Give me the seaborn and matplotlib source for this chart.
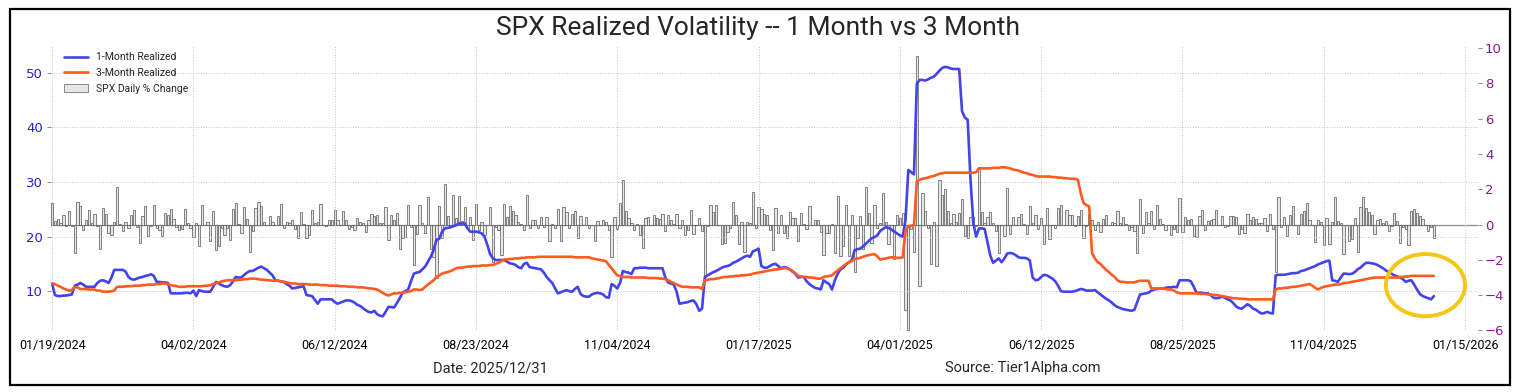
import numpy as np
import pandas as pd
import matplotlib
matplotlib.use("Agg")
import matplotlib.pyplot as plt
from matplotlib.patches import Ellipse, Rectangle, Patch
from matplotlib.lines import Line2D
import seaborn as sns

# x axis is trading-day index, labelled every 50 sessions
tick_labels = ["01/19/2024", "04/02/2024", "06/12/2024", "08/23/2024", "11/04/2024",
               "01/17/2025", "04/01/2025", "06/12/2025", "08/25/2025", "11/04/2025",
               "01/15/2026"]

# SPX daily % change (right axis)
spx_chg = [
    1.23, 0.22, 0.29, 0.08, 0.53, -0.07, 0.76, -0.06, -1.61, 1.25,
    1.07, -0.32, 0.23, 0.82, 0.06, 0.57, -0.09, -1.37, 0.96, 0.58,
    -0.48, -0.60, 0.13, 2.11, 0.03, -0.38, 0.17, -0.17, 0.52, 0.80,
    -0.12, -1.02, 0.51, 1.03, -0.65, -0.11, 1.12, -0.19, -0.29, -0.65,
    0.63, 0.56, 0.89, 0.32, -0.14, -0.31, -0.28, 0.86, 0.11, -0.20,
    -0.72, 0.11, -1.23, 1.11, -0.04, 0.14, -0.95, 0.74, -1.46, -1.20,
    -0.21, -0.58, -0.22, -0.88, 0.87, 1.20, 0.02, -0.46, 1.02, 0.32,
    -1.57, -0.34, 0.91, 1.26, 1.03, 0.13, 0.00, 0.51, 0.16, -0.02,
    0.48, 1.17, -0.21, 0.12, 0.09, 0.25, -0.27, -0.74, 0.70, 0.02,
    -0.74, -0.60, 0.80, 0.11, 0.15, 1.18, -0.02, -0.11, 0.26, 0.27,
    0.85, 0.23, -0.04, 0.77, 0.25, -0.25, -0.16, -0.31, 0.39, 0.16,
    0.09, -0.41, 0.27, 0.62, 0.51, 0.54, 0.10, 0.07, 1.02, -0.88,
    0.55, 0.28, 0.64, -1.39, -0.78, -0.71, 1.08, -0.16, -2.31, -0.51,
    1.11, 0.08, -0.50, 1.58, -1.37, -1.84, -3.00, 1.04, -0.77, 2.30,
    0.47, 0.00, 1.68, 0.38, 1.61, 0.20, 0.97, -0.20, 0.42, -0.89,
    1.15, -0.32, 0.16, -0.60, 0.00, 1.01, -2.12, -0.16, -0.30, -1.73,
    1.16, 0.45, 1.07, 0.75, 0.54, 0.13, 0.03, -0.29, 1.70, -0.19,
    0.28, 0.25, -0.19, 0.40, -0.13, 0.42, -0.93, 0.01, -0.17, 0.90,
    -0.96, 0.97, 0.71, -0.21, 0.61, 0.77, -0.76, 0.47, -0.02, 0.40,
    -0.18, -0.05, -0.92, 0.21, -0.03, 0.27, 0.16, -0.33, -1.86, 0.41,
    -0.28, 1.23, 2.53, 0.74, 0.38, 0.10, -0.29, 0.02, -0.60, -1.32,
    0.39, 0.40, 0.00, 0.53, 0.35, 0.30, 0.57, -0.38, 0.56, 0.24,
    0.05, 0.61, -0.19, 0.25, -0.61, -0.30, 0.82, -0.54, 0.00, 0.38,
    -0.39, -2.95, -0.09, 1.09, 0.73, 1.10, -0.04, -1.11, -1.07, -0.43,
    -0.22, 1.26, 0.55, -1.11, 0.16, -1.54, 0.16, 0.11, 1.83, -0.21,
    1.00, 0.88, 0.61, 0.53, -0.29, -1.46, 0.92, -0.47, 0.53, -0.50,
    -0.76, 0.72, 0.39, 0.36, -0.95, 0.67, 0.03, -0.27, 1.04, -0.01,
    0.24, 0.24, -0.43, -1.71, -0.50, -0.47, 0.01, -1.59, 1.59, -1.76,
    -1.22, 1.12, -1.78, 0.55, -2.70, -0.76, 0.49, -1.39, 2.13, 0.64,
    -1.07, 1.08, -0.22, 0.08, 1.76, 0.16, -1.12, -0.33, -1.97, 0.55,
    0.38, 0.67, -4.84, -5.97, -0.23, -1.57, 9.52, -3.46, 1.81, 0.79,
    -0.17, -2.24, 0.13, -2.36, 2.51, 1.67, 2.03, 0.74, 0.06, 0.58,
    0.15, 0.63, 1.47, -0.64, -0.77, 0.43, 0.43, -0.07, 3.26, 0.72,
    0.10, 0.41, 0.70, 0.09, -0.39, -1.61, -0.04, -0.67, 2.05, -0.56,
    0.40, -0.01, 0.41, 0.58, 0.01, -0.53, 1.03, 0.09, 0.55, -0.27,
    0.38, -1.13, 0.94, -0.84, -0.03, -0.22, 0.96, 1.11, 0.00, 0.80,
    0.52, 0.52, -0.11, 0.47, 0.83, -0.79, -0.07, 0.61, 0.27, -0.33,
    0.14, -0.40, 0.32, 0.54, -0.01, 0.14, 0.06, 0.78, 0.07, 0.40,
    0.02, -0.30, -0.12, -0.37, -1.60, 1.47, -0.49, 0.73, 0.08, 0.78,
    -0.25, 1.13, 0.32, 0.03, -0.29, -0.01, -0.59, -0.24, -0.40, 1.52,
    -0.43, 0.41, 0.24, 0.32, -0.64, -0.69, 0.51, 0.83, -0.32, 0.21,
    0.27, 0.30, 0.85, -0.05, 0.47, -0.13, -0.10, 0.48, 0.49, 0.44,
    -0.55, -0.28, -0.50, 0.59, 0.26, 0.41, 0.34, 0.06, 0.06, 0.36,
    -0.38, 0.58, -0.28, -2.71, 1.56, -0.16, 0.40, -0.63, 0.53, 1.07,
    0.00, -0.53, 0.58, 0.79, 1.23, 0.23, 0.00, -0.99, 0.26, 0.17,
    -1.17, 0.37, -1.12, 0.13, 1.54, 0.21, 0.06, -1.66, -0.05, -0.92,
    -0.83, 0.38, -1.56, 0.98, 1.55, 0.91, 0.69, 0.54, -0.53, 0.25,
    0.30, 0.11, 0.19, -0.35, -0.09, 0.67, 0.21, -1.07, -0.16, -0.24,
    -1.16, 0.79, 0.88, 0.64, 0.46, 0.32, -0.03, -0.35, -0.14, -0.74,
]

# 1-month realized vol (left axis)
vol_1m = [
    11.4, 9.3, 9.1, 9.1, 9.2, 9.2, 9.3, 9.4, 11.0, 11.2,
    11.5, 11.2, 10.8, 10.8, 10.8, 10.8, 11.5, 11.9, 12.0, 11.8,
    11.5, 12.5, 13.9, 13.9, 13.9, 13.9, 13.6, 12.6, 12.2, 12.1,
    12.3, 12.5, 12.6, 12.8, 12.9, 13.1, 12.8, 11.7, 11.7, 11.6,
    11.6, 11.5, 9.6, 9.6, 9.6, 9.6, 9.6, 9.7, 9.7, 9.6,
    10.1, 9.1, 10.2, 10.0, 9.9, 9.9, 9.9, 10.8, 11.7, 11.4,
    11.1, 10.9, 10.8, 11.1, 11.8, 12.6, 12.5, 12.5, 13.0, 13.4,
    13.7, 13.7, 14.0, 14.3, 14.5, 14.2, 13.9, 13.4, 12.9, 12.0,
    11.9, 11.8, 11.7, 11.3, 11.0, 10.5, 10.6, 10.7, 10.8, 10.9,
    9.3, 9.2, 9.1, 8.4, 7.7, 8.5, 8.5, 8.5, 8.5, 8.5,
    8.0, 7.7, 7.9, 8.1, 8.3, 8.3, 8.2, 7.9, 7.5, 7.3,
    6.9, 6.5, 6.2, 6.1, 6.4, 5.8, 5.5, 5.4, 6.2, 7.1,
    7.1, 7.0, 7.8, 8.7, 9.7, 10.0, 10.3, 11.8, 13.2, 13.4,
    13.5, 14.0, 14.5, 15.4, 16.3, 17.5, 19.4, 19.6, 20.9, 21.5,
    21.6, 21.7, 21.9, 22.1, 22.4, 22.4, 22.4, 21.5, 20.9, 20.9,
    20.9, 20.8, 20.6, 20.0, 18.5, 16.8, 16.0, 15.7, 15.7, 15.7,
    15.7, 15.4, 15.1, 15.0, 14.8, 14.4, 14.2, 15.0, 15.2, 14.4,
    14.3, 14.2, 14.1, 14.0, 13.4, 12.6, 12.0, 11.5, 10.5, 9.6,
    9.8, 10.0, 10.2, 10.0, 9.9, 10.4, 10.8, 9.5, 9.1, 9.0,
    9.0, 9.4, 9.6, 9.7, 9.6, 9.4, 8.9, 8.8, 11.3, 11.0,
    10.5, 11.5, 13.7, 13.5, 13.4, 13.1, 14.2, 14.2, 14.3, 14.3,
    14.3, 14.2, 14.2, 14.2, 14.2, 14.2, 14.2, 12.5, 11.6, 11.4,
    11.2, 9.9, 7.7, 7.8, 7.9, 8.0, 8.2, 8.3, 7.6, 6.4,
    6.8, 12.6, 12.9, 13.2, 13.5, 13.7, 14.0, 14.3, 14.5, 14.6,
    14.8, 15.2, 15.4, 15.7, 16.0, 16.3, 16.5, 16.3, 17.3, 17.5,
    17.8, 14.6, 14.3, 14.3, 14.6, 14.9, 15.0, 14.6, 14.2, 14.4,
    14.3, 14.0, 13.6, 13.2, 12.5, 12.6, 12.6, 11.8, 11.3, 10.9,
    10.6, 10.5, 10.3, 12.0, 11.6, 11.3, 10.3, 12.0, 13.2, 14.0,
    14.3, 14.9, 15.3, 15.7, 17.5, 17.7, 17.8, 18.2, 18.7, 19.2,
    19.7, 19.9, 20.2, 21.0, 21.4, 21.7, 21.6, 21.3, 20.9, 20.6,
    20.2, 20.0, 23.0, 32.2, 31.8, 31.4, 48.0, 48.7, 48.7, 48.6,
    48.8, 49.1, 49.3, 49.8, 50.4, 50.9, 51.1, 51.0, 50.8, 50.7,
    50.7, 50.7, 43.0, 41.8, 41.4, 30.5, 22.5, 20.0, 21.5, 21.5,
    21.4, 19.0, 16.5, 15.2, 15.6, 16.0, 15.3, 16.0, 16.9, 17.0,
    16.9, 16.6, 16.2, 16.1, 16.1, 16.0, 15.6, 12.5, 12.0, 12.1,
    12.6, 13.0, 12.9, 12.6, 12.3, 11.8, 11.0, 10.0, 9.9, 9.9,
    9.9, 9.9, 10.0, 10.2, 10.4, 10.3, 10.1, 10.1, 10.1, 10.2,
    9.8, 9.4, 9.0, 8.6, 8.3, 7.9, 7.4, 7.1, 6.9, 6.7,
    6.6, 6.5, 6.4, 6.6, 8.0, 9.4, 9.5, 9.6, 9.7, 10.1,
    10.3, 10.4, 10.5, 10.5, 10.6, 10.7, 10.7, 10.8, 10.7, 12.0,
    12.0, 12.0, 12.0, 11.8, 10.8, 9.7, 9.7, 9.7, 9.6, 9.6,
    9.3, 8.8, 8.7, 8.8, 9.0, 8.8, 8.5, 8.3, 7.8, 7.2,
    6.9, 6.8, 7.2, 7.6, 7.3, 6.8, 6.6, 6.2, 5.9, 6.0,
    6.2, 6.0, 5.9, 12.9, 13.0, 13.0, 13.0, 13.1, 13.2, 13.3,
    13.3, 13.4, 13.7, 13.8, 14.0, 14.2, 14.4, 14.6, 14.9, 15.1,
    15.3, 15.5, 15.6, 12.0, 11.9, 11.7, 12.5, 13.2, 13.2, 13.1,
    13.2, 13.5, 14.0, 14.3, 14.8, 15.2, 15.2, 15.1, 15.0, 14.8,
    14.5, 14.2, 13.8, 13.5, 13.2, 12.9, 12.7, 12.5, 12.2, 11.7,
    11.9, 12.0, 11.2, 10.3, 9.5, 9.1, 8.9, 8.7, 8.5, 9.1,
]

# 3-month realized vol (left axis)
vol_3m = [
    11.4, 11.3, 11.0, 10.8, 10.5, 10.3, 10.1, 10.2, 10.8, 10.7,
    10.4, 10.4, 10.4, 10.3, 10.3, 10.3, 10.1, 10.1, 9.9, 9.9,
    9.9, 10.0, 10.1, 10.8, 10.8, 10.8, 10.9, 10.9, 10.9, 11.0,
    11.0, 11.0, 11.1, 11.1, 11.2, 11.2, 11.2, 11.3, 11.3, 11.4,
    11.4, 11.3, 11.1, 11.0, 10.9, 10.8, 10.8, 10.8, 10.9, 10.9,
    10.9, 10.9, 10.9, 10.9, 11.0, 11.0, 11.1, 11.3, 11.5, 11.6,
    11.8, 11.9, 12.0, 12.0, 12.0, 12.0, 12.1, 12.1, 12.2, 12.2,
    12.3, 12.3, 12.3, 12.2, 12.1, 12.1, 12.0, 12.0, 11.9, 11.9,
    11.9, 11.8, 11.7, 11.6, 11.5, 11.4, 11.4, 11.3, 11.3, 11.3,
    11.3, 11.2, 11.2, 11.2, 11.2, 11.1, 11.1, 11.1, 11.0, 11.0,
    11.0, 11.0, 10.9, 10.9, 10.9, 10.8, 10.8, 10.8, 10.7, 10.7,
    10.7, 10.6, 10.5, 10.5, 10.4, 10.3, 10.0, 9.7, 9.4, 9.2,
    9.4, 9.6, 9.6, 9.7, 9.7, 9.8, 9.9, 10.0, 10.3, 10.3,
    10.2, 10.3, 10.8, 11.2, 11.6, 12.0, 12.6, 12.9, 13.2, 13.4,
    13.5, 13.7, 13.9, 14.2, 14.3, 14.3, 14.4, 14.5, 14.5, 14.6,
    14.6, 14.6, 14.7, 14.7, 14.7, 14.8, 14.8, 15.0, 15.2, 15.5,
    15.8, 15.8, 15.9, 15.9, 16.0, 16.0, 16.1, 16.1, 16.2, 16.2,
    16.2, 16.2, 16.3, 16.3, 16.3, 16.3, 16.3, 16.3, 16.3, 16.3,
    16.3, 16.3, 16.3, 16.3, 16.3, 16.2, 16.2, 16.2, 16.2, 16.2,
    16.2, 16.0, 15.9, 15.8, 15.7, 15.6, 15.5, 14.8, 14.2, 13.5,
    12.9, 12.8, 12.6, 12.6, 12.6, 12.5, 12.5, 12.5, 12.5, 12.5,
    12.5, 12.4, 12.4, 12.4, 12.4, 12.3, 12.3, 12.2, 12.0, 11.7,
    11.5, 11.2, 11.0, 10.8, 10.8, 10.8, 10.7, 10.7, 10.7, 10.7,
    10.4, 12.0, 12.1, 12.2, 12.2, 12.3, 12.4, 12.5, 12.6, 12.6,
    12.7, 12.7, 12.8, 12.8, 12.9, 12.9, 13.0, 13.0, 13.2, 13.3,
    13.4, 13.5, 13.6, 13.7, 13.8, 13.9, 14.0, 14.0, 14.1, 14.2,
    14.2, 14.0, 13.7, 13.3, 12.8, 12.7, 12.6, 12.6, 12.5, 12.5,
    12.4, 12.3, 12.3, 12.6, 12.7, 12.8, 12.9, 13.4, 13.8, 14.2,
    14.6, 15.0, 15.3, 15.5, 15.9, 16.0, 16.1, 16.3, 16.5, 16.6,
    16.7, 16.8, 16.4, 15.8, 15.9, 16.0, 16.1, 16.2, 16.2, 16.1,
    16.1, 16.2, 21.0, 21.9, 22.0, 22.1, 30.1, 30.4, 30.6, 30.7,
    30.8, 31.0, 31.1, 31.3, 31.5, 31.6, 31.7, 31.7, 31.7, 31.7,
    31.7, 31.7, 31.7, 31.7, 31.7, 31.7, 31.7, 31.8, 32.5, 32.5,
    32.5, 32.5, 32.5, 32.6, 32.6, 32.6, 32.7, 32.7, 32.6, 32.5,
    32.3, 32.2, 32.1, 31.9, 31.7, 31.6, 31.4, 31.3, 31.1, 31.0,
    31.0, 31.0, 31.0, 31.0, 30.9, 30.9, 30.8, 30.8, 30.7, 30.7,
    30.6, 30.6, 30.6, 30.4, 28.0, 26.1, 25.8, 25.5, 17.0, 16.0,
    15.3, 15.0, 14.4, 13.9, 13.5, 13.0, 12.6, 12.0, 11.7, 11.7,
    11.6, 11.6, 11.6, 11.6, 11.8, 11.9, 11.9, 11.9, 11.9, 10.5,
    10.5, 10.5, 10.5, 10.5, 10.4, 10.3, 10.3, 10.1, 9.8, 9.6,
    9.6, 9.6, 9.6, 9.6, 9.6, 9.6, 9.5, 9.5, 9.5, 9.4,
    9.4, 9.3, 9.3, 9.2, 9.1, 9.0, 8.9, 8.8, 8.7, 8.7,
    8.6, 8.6, 8.6, 8.5, 8.5, 8.5, 8.5, 8.5, 8.5, 8.5,
    8.5, 8.5, 8.5, 10.3, 10.5, 10.5, 10.6, 10.6, 10.7, 10.8,
    10.8, 10.9, 11.0, 11.1, 11.2, 11.3, 11.0, 10.6, 10.3, 10.6,
    10.8, 10.9, 11.0, 11.1, 11.2, 11.2, 11.3, 11.5, 11.5, 11.6,
    11.7, 11.8, 11.9, 12.0, 12.1, 12.2, 12.3, 12.4, 12.5, 12.5,
    12.5, 12.5, 12.5, 12.5, 12.5, 12.5, 12.5, 12.6, 12.6, 12.7,
    12.7, 12.8, 12.8, 12.8, 12.8, 12.8, 12.8, 12.8, 12.8, 12.8,
]

df = pd.DataFrame({
    "day": np.arange(len(spx_chg)),
    "chg": spx_chg,
    "vol_1m": vol_1m,
    "vol_3m": vol_3m,
})

sns.set_style("white")
plt.rcParams["font.family"] = ["DejaVu Sans"]
label_font = "Roboto"

blue = "#4343ee"
orange = "#ff5a1f"
purple = "#8b1a8b"

fig = plt.figure(figsize=(15.17, 3.92), dpi=100)
ax1 = fig.add_axes([0.0336, 0.1556, 0.9407, 0.7296])
ax2 = ax1.twinx()
ax1.set_zorder(ax2.get_zorder() + 1)
ax1.patch.set_visible(False)

# daily % change bars on the right axis
sns.barplot(data=df, x="day", y="chg", native_scale=True, width=0.8,
            color="#e6e6e6", edgecolor="#555555", linewidth=0.5,
            saturation=1, errorbar=None, ax=ax2)
ax2.axhline(0, color="#8c8c8c", lw=0.9, zorder=0)

# realized vol lines on the left axis
sns.lineplot(data=df, x="day", y="vol_1m", color=blue, lw=1.9, ax=ax1)
sns.lineplot(data=df, x="day", y="vol_3m", color=orange, lw=1.9, ax=ax1)

ax1.set_xlim(-0.4, 504.6)
ax1.set_ylim(2.7, 55.1)
ax2.set_ylim(-6.03, 10.17)
ax1.set_yticks([10, 20, 30, 40, 50])
ax2.set_yticks(range(-6, 11, 2))
ax1.set_xticks(np.arange(0, 501, 50))
ax1.set_xticklabels(tick_labels, fontsize=9, family=label_font)
for a in (ax1, ax2):
    a.set_xlabel("")
    a.set_ylabel("")
    for s in a.spines.values():
        s.set_visible(False)

ax1.tick_params(axis="y", colors="#777777", labelcolor="#2424c8", labelsize=9.5, length=3, width=0.6, pad=3)
ax2.tick_params(axis="y", colors="#777777", labelcolor=purple, labelsize=9.5, length=3, width=0.6, pad=2)
ax1.tick_params(axis="x", colors="#999999", labelcolor="black", length=0, pad=6)
ax1.grid(True, ls=":", color="#c4c4c4", lw=0.7)
ax2.grid(False)

# yellow highlight ring around the latest readings
ax1.add_patch(Ellipse((486, 11.1), 28, 11.4, fill=False, ec="#f6c614", lw=2.8, zorder=5))

handles = [
    Line2D([], [], color=blue, lw=1.9),
    Line2D([], [], color=orange, lw=1.9),
    Patch(facecolor="#e6e6e6", edgecolor="#777777", lw=0.6),
]
ax1.legend(handles, ["1-Month Realized", "3-Month Realized", "SPX Daily % Change"],
           loc="upper left", bbox_to_anchor=(0.004, 1.0), frameon=False,
           prop={"family": label_font, "size": 7.5}, handlelength=2.3,
           labelspacing=0.55, borderaxespad=0.3)

fig.text(0.5, 0.929, "SPX Realized Volatility -- 1 Month vs 3 Month",
         ha="center", va="center", fontsize=19, family=label_font)
fig.text(0.323, 0.061, "Date: 2025/12/31", ha="center", va="center", fontsize=10.5, family=label_font)
fig.text(0.674, 0.061, "Source: Tier1Alpha.com", ha="center", va="center", fontsize=10.5, family=label_font)

fig.patches.append(Rectangle((0.0066, 0.018), 0.9888, 0.959, transform=fig.transFigure,
                             fill=False, ec="black", lw=1.6))

fig.savefig("out.png", dpi=100)
